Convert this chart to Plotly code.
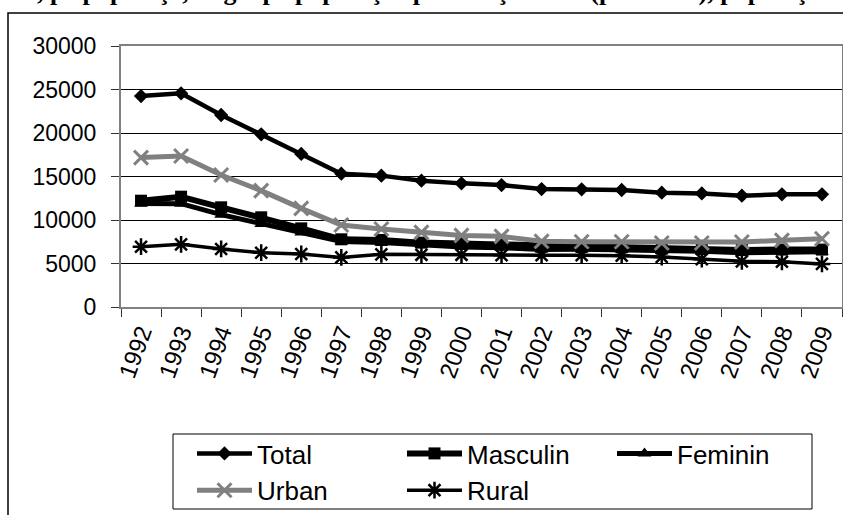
import plotly.graph_objects as go

years = [str(y) for y in range(1992, 2010)]
total = [24250, 24560, 22070, 19850, 17590, 15320, 15100, 14520, 14210, 14020, 13560, 13530, 13450, 13140, 13060, 12800, 12950, 12950]
masculin = [12220, 12680, 11460, 10310, 9040, 7780, 7700, 7400, 7300, 7200, 6950, 6900, 6850, 6700, 6650, 6550, 6600, 6600]
feminin = [11900, 11880, 10610, 9540, 8550, 7540, 7400, 7120, 6910, 6820, 6610, 6630, 6600, 6440, 6410, 6250, 6350, 6350]
urban = [17170, 17360, 15170, 13370, 11340, 9430, 8970, 8580, 8230, 8120, 7550, 7500, 7500, 7360, 7360, 7470, 7660, 7850]
rural = [6930, 7200, 6670, 6240, 6090, 5700, 6050, 6000, 6000, 5950, 5950, 5950, 5900, 5750, 5500, 5250, 5200, 4950]
y_ticks = [0, 5000, 10000, 15000, 20000, 25000, 30000]

FONT = "Liberation Sans, Arial, sans-serif"
GRAY = "#808080"

fig = go.Figure()
fig.add_trace(go.Scatter(x=years, y=total, name="Total", mode="lines+markers",
                         line=dict(color="black", width=4.5),
                         marker=dict(symbol="diamond", size=11, color="black")))
fig.add_trace(go.Scatter(x=years, y=masculin, name="Masculin", mode="lines+markers",
                         line=dict(color="black", width=6),
                         marker=dict(symbol="square", size=12, color="black")))
fig.add_trace(go.Scatter(x=years, y=feminin, name="Feminin", mode="lines+markers",
                         line=dict(color="black", width=5),
                         marker=dict(symbol="triangle-up", size=12, color="black")))
fig.add_trace(go.Scatter(x=years, y=urban, name="Urban", mode="lines+markers",
                         line=dict(color=GRAY, width=5),
                         marker=dict(symbol="x-thin-open", size=14, color=GRAY,
                                     line=dict(color=GRAY, width=3))))
fig.add_trace(go.Scatter(x=years, y=rural, name="Rural", mode="lines+markers",
                         line=dict(color="black", width=3.5),
                         marker=dict(symbol="asterisk-open", size=14, color="black",
                                     line=dict(color="black", width=2.5))))

# outer chart frame
fig.add_shape(type="rect", xref="paper", yref="paper",
              x0=(8 - 121) / 721, x1=(860 - 121) / 721,
              y0=(307 - 530) / 261, y1=(307 - 13) / 261,
              line=dict(color="black", width=1.5), layer="below")
# legend frame
fig.add_shape(type="rect", xref="paper", yref="paper",
              x0=(173 - 121) / 721, x1=(812 - 121) / 721,
              y0=(307 - 509) / 261, y1=(307 - 434) / 261,
              line=dict(color="black", width=1), layer="below")
# gray 15000 gridline
fig.add_shape(type="line", xref="paper", yref="y", x0=0, x1=1, y0=15000, y1=15000,
              line=dict(color=GRAY, width=1.2), layer="below")

fig.add_annotation(text="a, pe populaţii, în grupe populaţiei pe sexe şi medii (persoane), populaţia",
                   xref="paper", yref="paper", x=(22 - 121) / 721, y=(307 - 8) / 261,
                   xanchor="left", yanchor="bottom", showarrow=False,
                   font=dict(family="Liberation Serif, Times New Roman, serif", size=26,
                             color="black", weight="bold"))

fig.update_layout(
    width=843, height=515,
    margin=dict(l=121, r=1, t=46, b=208, autoexpand=False),
    paper_bgcolor="white", plot_bgcolor="white",
    font=dict(family=FONT, color="black"),
    showlegend=True,
    legend=dict(orientation="h", x=(192 - 121) / 721, y=(307 - 430) / 261,
                xanchor="left", yanchor="top",
                font=dict(family=FONT, size=26, color="black"),
                borderwidth=0, bgcolor="rgba(0,0,0,0)",
                itemwidth=55,
                entrywidthmode="pixels", entrywidth=140,
                traceorder="normal"),
)
fig.update_xaxes(type="category", range=[-0.5, 17.5], showgrid=False,
                 showline=True, linecolor=GRAY, linewidth=2, mirror=True,
                 ticks="outside", tickson="boundaries", ticklen=8, tickcolor="#333333",
                 tickangle=-70, tickfont=dict(family=FONT, size=24, color="black"))
fig.update_yaxes(range=[0, 30000], tickvals=y_ticks, tickformat="d",
                 showgrid=True, gridcolor="black", gridwidth=1,
                 showline=True, linecolor=GRAY, linewidth=2, mirror=True,
                 ticks="outside", ticklen=8, tickcolor="#333333",
                 ticklabelstandoff=10, zeroline=False,
                 tickfont=dict(family=FONT, size=23, color="black"))

fig.write_html("out.html")
